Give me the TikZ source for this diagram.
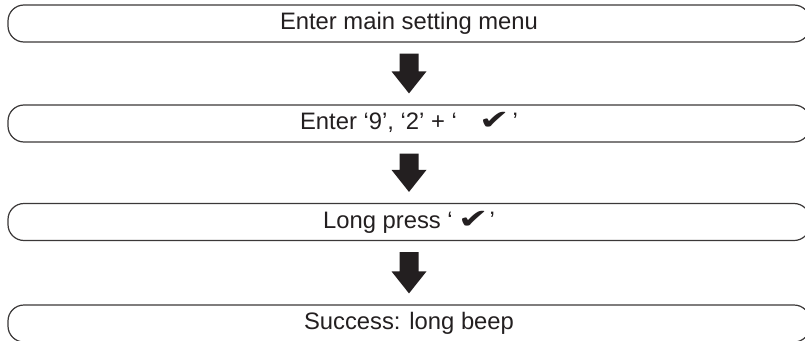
\documentclass[tikz,border=0pt]{standalone}
\usepackage{fontspec}
\setmainfont{Liberation Sans}
\newfontfamily\symf{DejaVu Sans}
\usetikzlibrary{calc}
\definecolor{boxline}{HTML}{3B3838}
\definecolor{ink}{HTML}{231F20}
\newcommand{\chk}{{\symf\fontsize{21}{24}\selectfont\scalebox{1.75}[1.3]{✔}}}
\tikzset{
  stepbox/.style={draw=boxline, line width=1.2pt, rounded corners=16pt,
    minimum width=802pt, minimum height=37pt, inner sep=0pt,
    text=ink, font=\fontsize{23.8}{28}\selectfont,
    text height=17pt, text depth=5pt},
  arrowfill/.style={fill=ink, draw=none}
}
\begin{document}
\begin{tikzpicture}[x=1pt,y=1pt]
\useasboundingbox (0,0) rectangle (805,-340);
\node[stepbox] (b1) at (409,-23.5) {Enter main setting menu};
\node[stepbox] (b2) at (409,-123.5) {Enter ‘9’, ‘2’ + ‘\hspace{22pt}\chk\hspace{3pt}’};
\node[stepbox] (b3) at (409,-222) {Long press ‘\hspace{5pt}\chk\hspace{1pt}’};
\node[stepbox] (b4) at (409,-323.5) {Success: long beep};
\foreach \a/\b in {b1/b2,b2/b3,b3/b4}{
  \fill[arrowfill] ($(\a.south)+(-9.5,-11)$) -- ($(\a.south)+(9.5,-11)$)
    -- ($(\b.north)+(9.5,33)$) -- ($(\b.north)+(17.5,33)$)
    -- ($(\b.north)+(0,11)$) -- ($(\b.north)+(-17.5,33)$)
    -- ($(\b.north)+(-9.5,33)$) -- cycle;
}
\end{tikzpicture}
\end{document}
